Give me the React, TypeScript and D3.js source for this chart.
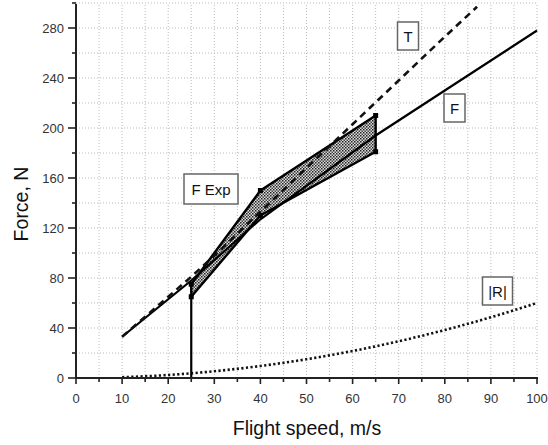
import React from "react";
import * as d3 from "d3";

const speedT = [10, 20, 25, 30, 40, 50, 60, 70, 80, 87];
const thrustT = [33, 65, 81, 98, 133, 168, 203, 238, 273, 297];

const speedF = [10, 25, 40, 65, 80, 100];
const forceF = [33, 78, 127, 194, 230, 278];

const speedR = [10, 20, 30, 40, 50, 60, 70, 80, 90, 100];
const dragR = [0.6, 2.4, 5.4, 9.6, 15, 21.6, 29.4, 38.4, 48.6, 60];

const expSpeed = [25, 40, 65];
const expMax = [75, 150, 210];
const expMin = [65, 130, 181];

const xTicks = [0, 10, 20, 30, 40, 50, 60, 70, 80, 90, 100];
const yTicks = [0, 40, 80, 120, 160, 200, 240, 280];
const xMinor = d3.range(0, 101, 5);
const yMinor = d3.range(0, 301, 20);

const labels = [
  { text: "T", x: 408, y: 36, w: 21, h: 28 },
  { text: "F", x: 454.5, y: 108, w: 21, h: 28 },
  { text: "F Exp", x: 211, y: 189, w: 54, h: 30 },
  { text: "|R|", x: 497.5, y: 291, w: 30, h: 28 },
];

export default function App() {
  const x = d3.scaleLinear().domain([0, 100]).range([76, 537]);
  const y = d3.scaleLinear().domain([0, 300]).range([378, 3]);
  const font = "Arial, 'Liberation Sans', sans-serif";

  const lineT = d3
    .line<number>()
    .x((d, i) => x(speedT[i]))
    .y((d) => y(d))
    .curve(d3.curveMonotoneX)(thrustT);
  const lineF = d3
    .line<number>()
    .x((d, i) => x(speedF[i]))
    .y((d) => y(d))(forceF);
  const lineR = d3
    .line<number>()
    .x((d, i) => x(speedR[i]))
    .y((d) => y(d))
    .curve(d3.curveMonotoneX)(dragR);

  const poly: [number, number][] = [
    ...expSpeed.map((s, i) => [x(s), y(expMax[i])] as [number, number]),
    ...expSpeed
      .map((s, i) => [x(s), y(expMin[i])] as [number, number])
      .reverse(),
  ];
  const polyPath = "M" + poly.map((p) => p.join(",")).join("L") + "Z";

  return (
    <svg
      width={548}
      height={445}
      style={{ position: "absolute", left: 0, top: 0, background: "#fff" }}
    >
      <defs>
        <pattern id="hatch" width={3} height={3} patternUnits="userSpaceOnUse">
          <rect width={3} height={3} fill="#ddd" />
          <rect width={1.5} height={1.5} fill="#222" />
          <rect x={1.5} y={1.5} width={1.5} height={1.5} fill="#444" />
        </pattern>
      </defs>
      {/* grid */}
      {xMinor.slice(1).map((v) => (
        <line
          key={"gx" + v}
          x1={x(v)}
          x2={x(v)}
          y1={y(0)}
          y2={y(300)}
          stroke="#bbb"
          strokeWidth={1}
          strokeDasharray="1,2"
        />
      ))}
      {yMinor.slice(1).map((v) => (
        <line
          key={"gy" + v}
          x1={x(0)}
          x2={x(100)}
          y1={y(v)}
          y2={y(v)}
          stroke="#bbb"
          strokeWidth={1}
          strokeDasharray="1,2"
        />
      ))}
      {/* R dotted */}
      <path d={lineR || ""} fill="none" stroke="#111" strokeWidth={2.6} strokeDasharray="2.2,2.4" />
      {/* vertical line at 25 */}
      <line x1={x(25)} x2={x(25)} y1={y(0)} y2={y(expMin[0])} stroke="#000" strokeWidth={2.2} />
      {/* experimental region */}
      <path d={polyPath} fill="url(#hatch)" stroke="#000" strokeWidth={2.4} strokeLinejoin="round" />
      {expSpeed.map((s, i) => (
        <g key={"m" + i}>
          <rect x={x(s) - 2.5} y={y(expMax[i]) - 2.5} width={5} height={5} fill="#000" />
          <rect x={x(s) - 2.5} y={y(expMin[i]) - 2.5} width={5} height={5} fill="#000" />
        </g>
      ))}
      {/* F solid */}
      <path d={lineF || ""} fill="none" stroke="#000" strokeWidth={2.2} />
      {/* T dashed */}
      <path d={lineT || ""} fill="none" stroke="#111" strokeWidth={2.6} strokeDasharray="7,5" />
      {/* axes */}
      <line x1={x(0)} x2={x(0)} y1={y(0) + 1} y2={y(300) + 1} stroke="#222" strokeWidth={2} />
      <line x1={x(0) - 1} x2={x(100) + 1} y1={y(0)} y2={y(0)} stroke="#222" strokeWidth={2} />
      {xMinor.map((v) => (
        <line
          key={"xt" + v}
          x1={x(v)}
          x2={x(v)}
          y1={y(0)}
          y2={y(0) + (v % 10 === 0 ? 6 : 4)}
          stroke="#222"
          strokeWidth={1.6}
        />
      ))}
      {yMinor.map((v) => (
        <line
          key={"yt" + v}
          x1={x(0)}
          x2={x(0) - (v % 40 === 0 ? 8 : 4)}
          y1={y(v)}
          y2={y(v)}
          stroke="#222"
          strokeWidth={1.6}
        />
      ))}
      {xTicks.map((v) => (
        <text
          key={"xl" + v}
          x={x(v)}
          y={y(0) + 25}
          textAnchor="middle"
          fontFamily={font}
          fontSize={13}
          fill="#333"
        >
          {v}
        </text>
      ))}
      {yTicks.map((v) => (
        <text
          key={"yl" + v}
          x={x(0) - 12}
          y={y(v) + 5}
          textAnchor="end"
          fontFamily={font}
          fontSize={13}
          fill="#333"
        >
          {v}
        </text>
      ))}
      <text
        x={307}
        y={435}
        textAnchor="middle"
        fontFamily={font}
        fontSize={19.5}
        fill="#111"
      >
        Flight speed, m/s
      </text>
      <text
        transform="translate(28,204) rotate(-90)"
        textAnchor="middle"
        fontFamily={font}
        fontSize={19.5}
        fill="#111"
      >
        Force, N
      </text>
      {labels.map((l) => (
        <g key={l.text}>
          <rect
            x={l.x - l.w / 2}
            y={l.y - l.h / 2}
            width={l.w}
            height={l.h}
            fill="#fff"
            stroke="#666"
            strokeWidth={1.5}
          />
          <text
            x={l.x}
            y={l.y + 5.5}
            textAnchor="middle"
            fontFamily={font}
            fontSize={15}
            fill="#111"
          >
            {l.text}
          </text>
        </g>
      ))}
    </svg>
  );
}
